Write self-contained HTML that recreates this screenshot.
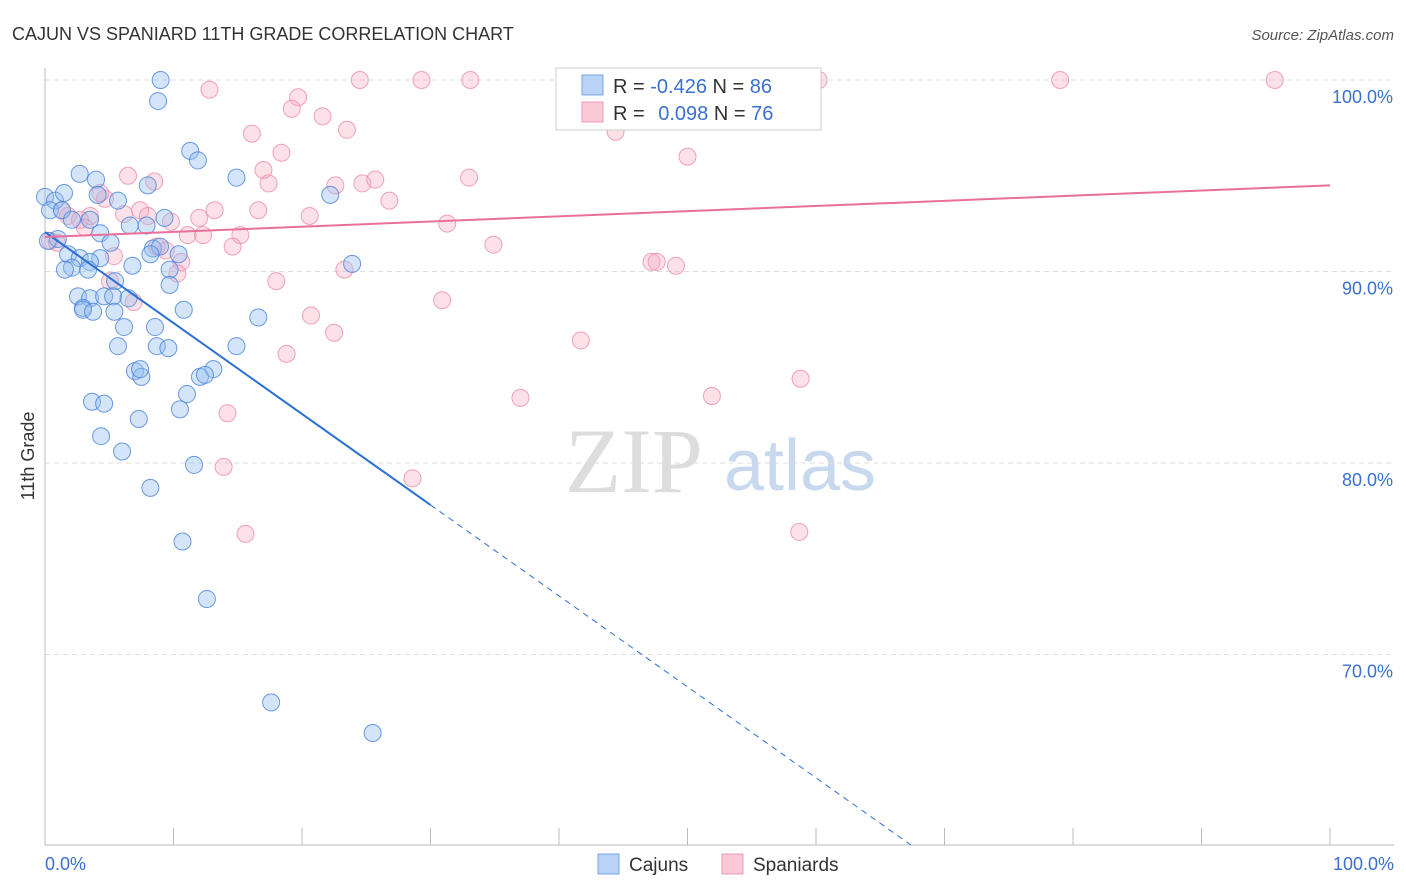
<!DOCTYPE html>
<html><head><meta charset="utf-8"><style>
body{margin:0;background:#fff;font-family:"Liberation Sans",sans-serif}
svg{display:block}
</style></head><body>
<svg id="chart" width="1406" height="892">
<text x="12" y="40" font-size="18" fill="#333">CAJUN VS SPANIARD 11TH GRADE CORRELATION CHART</text>
<text x="1394" y="40" font-size="15" fill="#555" font-style="italic" text-anchor="end">Source: ZipAtlas.com</text>
<text x="634" y="492" font-size="92" fill="#ddd" font-family="Liberation Serif" text-anchor="middle">ZIP</text>
<text x="800" y="490" font-size="72" fill="#c8d8ee" text-anchor="middle">atlas</text>
<text transform="translate(34,456) rotate(-90)" font-size="18" fill="#333" text-anchor="middle">11th Grade</text>
<g id="grid"></g><g id="pts"></g><g id="lines"></g>
<g>
<rect x="556" y="68" width="265" height="62" fill="#fff" stroke="#ccc"/>
<rect x="582" y="75" width="21" height="20" fill="#b8d3f5" stroke="#7aa7e0"/>
<rect x="582" y="102" width="21" height="20" fill="#fac8d6" stroke="#f09ab2"/>
<text x="613" y="93" font-size="20" fill="#333">R = <tspan fill="#3a70d0">-0.426</tspan>   N = <tspan fill="#3a70d0">86</tspan></text>
<text x="613" y="120" font-size="20" fill="#333">R =  <tspan fill="#3a70d0" dx="8">0.098</tspan>   N = <tspan fill="#3a70d0">76</tspan></text>
</g>
<g>
<rect x="598" y="854" width="21" height="20" fill="#b8d3f5" stroke="#7aa7e0"/>
<text x="629" y="871" font-size="19" fill="#333">Cajuns</text>
<rect x="722" y="854" width="21" height="20" fill="#fac8d6" stroke="#f09ab2"/>
<text x="753" y="871" font-size="19" fill="#333">Spaniards</text>
</g>
<text x="45" y="870" font-size="18" fill="#3a70d0">0.0%</text>
<text x="1394" y="870" font-size="18" fill="#3a70d0" text-anchor="end">100.0%</text>
</svg>
<script>
const yTicks=[100,90,80,70];
const cajunX=[9.0,8.8,11.3,11.9,2.7,3.97,14.9,8.0,4.1,0,0.78,1.48,5.68,22.2,0.39,1.32,2.1,3.5,9.3,6.6,7.9,4.3,1.0,0.23,5.1,8.4,8.95,8.2,1.8,10.4,4.3,2.7,3.5,2.1,1.55,6.8,23.9,9.7,3.35,5.45,9.7,2.57,3.5,4.6,5.3,6.5,2.96,2.96,3.74,5.4,10.8,16.6,6.15,8.56,5.68,8.7,9.6,14.9,7.0,7.5,7.4,13.1,12.06,12.45,11.05,3.66,4.6,10.5,7.3,4.36,6.0,11.6,8.2,10.7,12.6,17.6,25.5];
const cajunY=[100,98.9,96.3,95.8,95.1,94.8,94.9,94.5,94.0,93.9,93.7,94.1,93.7,94.0,93.2,93.2,92.7,92.7,92.8,92.4,92.4,92.0,91.7,91.6,91.5,91.2,91.3,90.9,90.9,90.9,90.7,90.7,90.5,90.2,90.1,90.3,90.4,90.1,90.1,89.5,89.3,88.7,88.6,88.7,88.7,88.6,88.1,88.0,87.9,87.9,88.0,87.6,87.1,87.1,86.1,86.1,86.0,86.1,84.8,84.5,84.9,84.9,84.5,84.6,83.6,83.2,83.1,82.8,82.3,81.4,80.6,79.9,78.7,75.9,72.9,67.5,65.9];
const spanX=[12.8,19.7,19.2,21.6,16.1,23.5,18.4,44.4,50.0,24.5,29.3,33.1,40.7,49.2,60.2,79.0,95.7,6.46,8.5,17.4,17.0,22.6,24.7,25.7,33.0,26.8,20.6,16.6,13.2,12.0,9.8,6.15,7.4,8.0,4.67,4.3,3.5,1.32,1.79,2.72,3.11,0.39,0.93,11.1,12.3,15.2,14.6,8.7,9.4,10.6,10.3,31.3,34.9,23.3,49.1,47.2,47.6,18.0,5.37,5.06,6.9,30.9,20.7,22.5,18.8,41.7,58.8,51.9,37.0,14.2,13.9,28.6,15.6,58.7];
const spanY=[99.5,99.1,98.5,98.1,97.2,97.4,96.2,97.3,96.0,100,100,100,100,100,100,100,100,95.0,94.7,94.6,95.3,94.5,94.6,94.8,94.9,93.7,92.9,93.2,93.2,92.8,92.6,93.0,93.2,92.9,93.8,94.1,92.9,93.2,92.9,92.7,92.3,91.6,91.5,91.9,91.9,91.9,91.3,91.3,91.1,90.5,89.9,92.5,91.4,90.1,90.3,90.5,90.5,89.5,90.8,89.5,88.4,88.5,87.7,86.8,85.7,86.4,84.4,83.5,83.4,82.6,79.8,79.2,76.3,76.4];
const cajunFit=[92.06,-0.475];
const spanFit=[91.8,0.027];
const X=v=>45+v*12.85, Y=v=>80+(100-v)*19.15;
const NS='http://www.w3.org/2000/svg';
function mk(tag,at,parent){const e=document.createElementNS(NS,tag);for(const k in at)e.setAttribute(k,at[k]);document.getElementById(parent).appendChild(e);return e;}
yTicks.forEach(t=>{
 const l=mk('line',{x1:45,x2:1394,y1:Y(t),y2:Y(t),stroke:'#ddd','stroke-dasharray':'5,4'},'grid');
 
 
 const tx=mk('text',{x:1393,y:Y(t)+23,'font-size':18,fill:'#3a70d0','text-anchor':'end'},'grid');
 tx.textContent=t.toFixed(1)+'%';
 
 
});
const ax=mk('line',{x1:45,x2:1394,y1:845,y2:845,stroke:'#bbb'},'grid');


const ay=mk('line',{x1:45,x2:45,y1:68,y2:845,stroke:'#bbb'},'grid');


for(let i=1;i<=10;i++){const t=mk('line',{x1:X(i*10),x2:X(i*10),y1:828,y2:845,stroke:'#bbb'},'grid');
 
 }
spanX.forEach((v,i)=>{const c=mk('circle',{cx:X(v),cy:Y(spanY[i]),r:8.5,fill:'rgba(246,170,192,0.35)',stroke:'rgba(236,140,170,0.8)','stroke-width':1},'pts');
 
 });
cajunX.forEach((v,i)=>{const c=mk('circle',{cx:X(v),cy:Y(cajunY[i]),r:8.5,fill:'rgba(150,190,240,0.4)',stroke:'rgba(70,130,220,0.8)','stroke-width':1},'pts');
 
 });
const f=(p,x)=>p[0]+p[1]*x;
const b1=mk('line',{x1:X(0),y1:Y(f(cajunFit,0)),x2:X(30),y2:Y(f(cajunFit,30)),stroke:'#2a6fd6','stroke-width':2},'lines');


const xe=(cajunFit[0]-(100-(845-80)/19.15))/-cajunFit[1];
const b2=mk('line',{x1:X(30),y1:Y(f(cajunFit,30)),x2:X(xe),y2:Y(f(cajunFit,xe)),stroke:'#2a6fd6','stroke-width':1,'stroke-dasharray':'6,5'},'lines');


const p1=mk('line',{x1:X(0),y1:Y(f(spanFit,0)),x2:X(100),y2:Y(f(spanFit,100)),stroke:'#e8709a','stroke-width':2},'lines');


</script>
</body></html>
